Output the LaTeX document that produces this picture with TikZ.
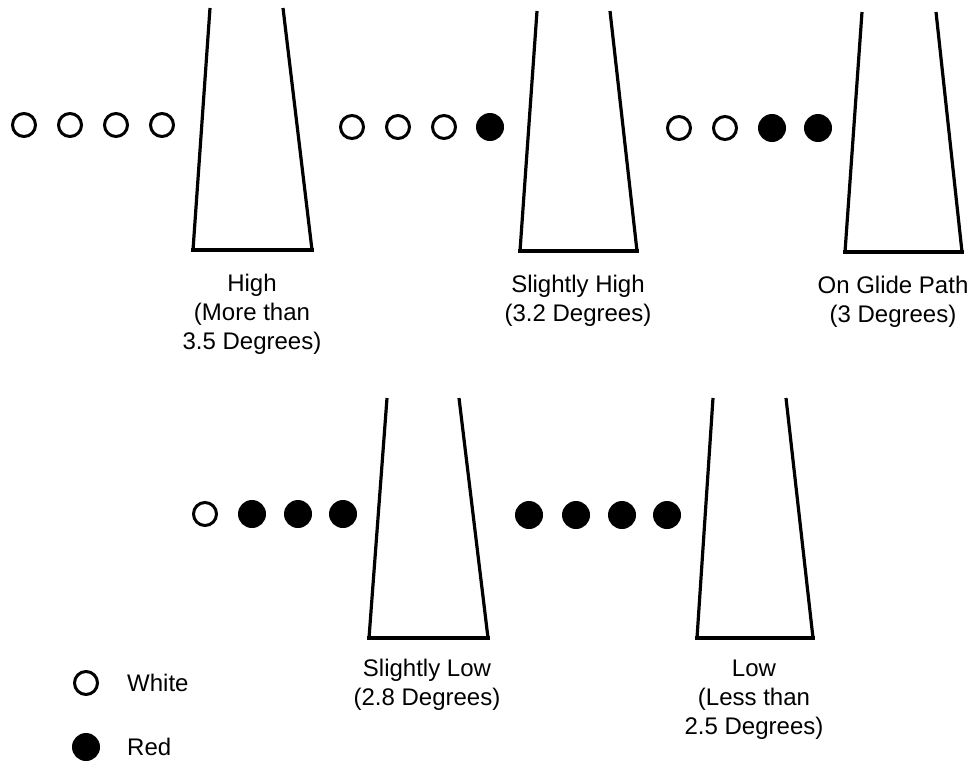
\documentclass[tikz,border=0pt]{standalone}
\usepackage{fontspec}
\setmainfont{Liberation Sans}
\begin{document}
\begin{tikzpicture}[x=1pt,y=-1pt,
  wlamp/.style={circle,draw=black,fill=white,line width=3pt,minimum size=23pt,inner sep=0pt},
  rlamp/.style={circle,fill=black,minimum size=28pt,inner sep=0pt},
  edgeline/.style={line width=3.2pt},
  groundline/.style={line width=4pt,line cap=rect},
  lbl/.style={align=center,font=\fontsize{24}{29}\selectfont,inner sep=0pt,anchor=base},
  legtxt/.style={font=\fontsize{24}{29}\selectfont,inner sep=0pt,anchor=base west}]
\fill[white] (0,0) rectangle (974,763);
\useasboundingbox (0,0) rectangle (974,763);

% ---------- Panel 1: High ----------
\coordinate (p1tl) at (210,8);   \coordinate (p1bl) at (193,250);
\coordinate (p1br) at (312,250); \coordinate (p1tr) at (283,8);
\draw[edgeline] (p1tl) -- (p1bl) (p1br) -- (p1tr);
\draw[groundline] (p1bl) -- (p1br);
\node[wlamp] (p1a) at (24,125) {};
\node[wlamp] (p1b) at (70,125) {};
\node[wlamp] (p1c) at (116,125) {};
\node[wlamp] (p1d) at (162,125) {};
% anchor=base of a multi-line node sits on its last line
\node[lbl] (l1) at (252,349) {High\\(More than\\3.5 Degrees)};

% ---------- Panel 2: Slightly High ----------
\coordinate (p2tl) at (537,11);  \coordinate (p2bl) at (520,251);
\coordinate (p2br) at (637,251); \coordinate (p2tr) at (610,11);
\draw[edgeline] (p2tl) -- (p2bl) (p2br) -- (p2tr);
\draw[groundline] (p2bl) -- (p2br);
\node[wlamp] (p2a) at (352,127) {};
\node[wlamp] (p2b) at (398,127) {};
\node[wlamp] (p2c) at (444,127) {};
\node[rlamp] (p2d) at (490,127) {};
\node[lbl] (l2) at (578,321) {Slightly High\\(3.2 Degrees)};

% ---------- Panel 3: On Glide Path ----------
\coordinate (p3tl) at (862,12);  \coordinate (p3bl) at (845,252);
\coordinate (p3br) at (962,252); \coordinate (p3tr) at (936,12);
\draw[edgeline] (p3tl) -- (p3bl) (p3br) -- (p3tr);
\draw[groundline] (p3bl) -- (p3br);
\node[wlamp] (p3a) at (679,128) {};
\node[wlamp] (p3b) at (725,128) {};
\node[rlamp] (p3c) at (772,128) {};
\node[rlamp] (p3d) at (818,128) {};
\node[lbl] (l3) at (893,322) {On Glide Path\\(3 Degrees)};

% ---------- Panel 4: Slightly Low ----------
\coordinate (p4tl) at (387,398); \coordinate (p4bl) at (369,638);
\coordinate (p4br) at (488,638); \coordinate (p4tr) at (459,398);
\draw[edgeline] (p4tl) -- (p4bl) (p4br) -- (p4tr);
\draw[groundline] (p4bl) -- (p4br);
\node[wlamp] (p4a) at (205,514) {};
\node[rlamp] (p4b) at (252,514) {};
\node[rlamp] (p4c) at (298,514) {};
\node[rlamp] (p4d) at (343,514) {};
\node[lbl] (l4) at (427,705) {Slightly Low\\(2.8 Degrees)};

% ---------- Panel 5: Low ----------
\coordinate (p5tl) at (713,398); \coordinate (p5bl) at (697,638);
\coordinate (p5br) at (813,638); \coordinate (p5tr) at (786,398);
\draw[edgeline] (p5tl) -- (p5bl) (p5br) -- (p5tr);
\draw[groundline] (p5bl) -- (p5br);
\node[rlamp] (p5a) at (529,515) {};
\node[rlamp] (p5b) at (576,515) {};
\node[rlamp] (p5c) at (622,515) {};
\node[rlamp] (p5d) at (667,515) {};
\node[lbl] (l5) at (754,734) {Low\\(Less than\\2.5 Degrees)};

% ---------- Legend ----------
\node[wlamp] (kw) at (86,683) {};
\node[legtxt] (kwt) at (127,691) {White};
\node[rlamp] (kr) at (86,747) {};
\node[legtxt] (krt) at (127,755) {Red};
\end{tikzpicture}
\end{document}
